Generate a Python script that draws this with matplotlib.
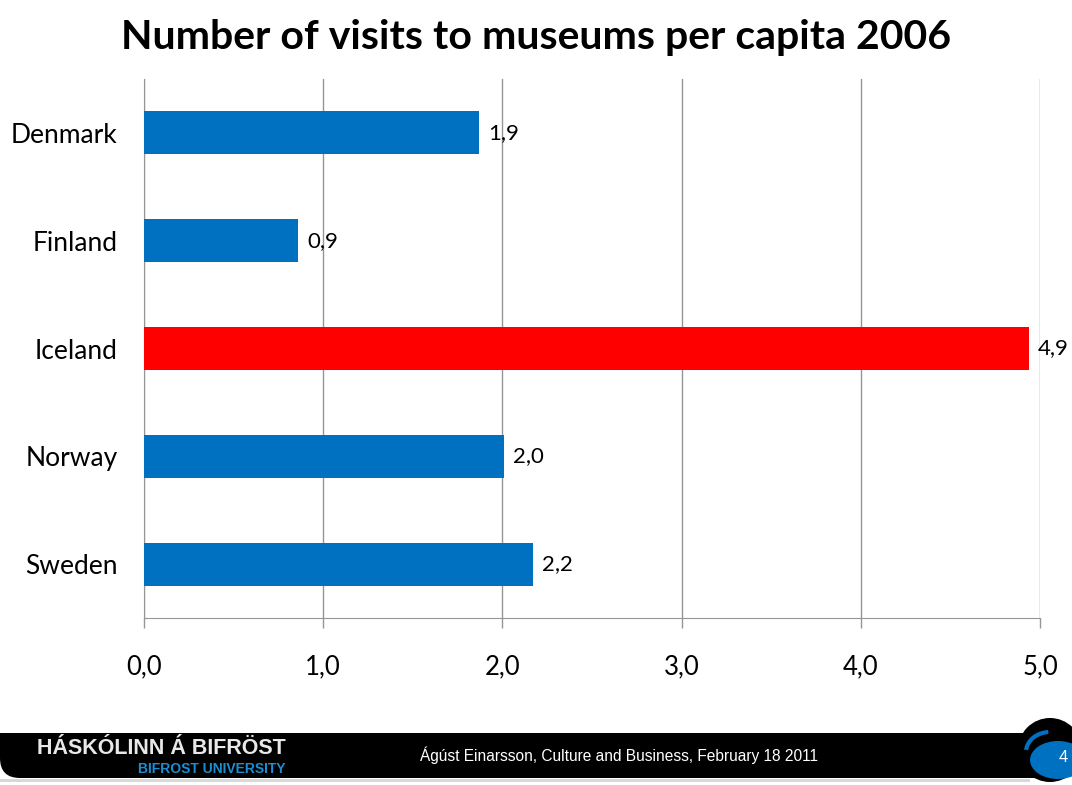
import matplotlib
matplotlib.use("Agg")
import matplotlib.pyplot as plt
from matplotlib.patches import FancyBboxPatch, Circle, Ellipse, Arc, Rectangle

countries = ["Denmark", "Finland", "Iceland", "Norway", "Sweden"]
visits = [1.87, 0.86, 4.94, 2.01, 2.17]
bar_colors = ["#0070C0", "#0070C0", "#FF0000", "#0070C0", "#0070C0"]
x_ticks = [0, 1, 2, 3, 4, 5]

title = "Number of visits to museums per capita 2006"
footer_text = "Ágúst Einarsson, Culture and Business, February 18 2011"
slide_no = "4"

plt.rcParams['font.family'] = ['Lato', 'DejaVu Sans']

fig = plt.figure(figsize=(10.72, 7.85), dpi=100)
W, H = 1072, 785

ax = fig.add_axes([144 / W, 1 - 618 / H, (1040 - 144) / W, (618 - 79) / H])
ypos = list(range(len(countries)))
ax.barh(ypos, visits, height=0.4, color=bar_colors, zorder=3)
ax.set_ylim(len(countries) - 0.5, -0.5)
ax.set_xlim(0, 5)
ax.set_yticks(ypos)
ax.set_yticklabels(countries, fontsize=19)
ax.set_xticks(x_ticks)
ax.set_xticklabels([("%.1f" % t).replace(".", ",") for t in x_ticks], fontsize=18.5)
ax.tick_params(axis="y", length=0, pad=19)
ax.tick_params(axis="x", length=7, width=1, color="#969696", pad=19)
ax.grid(axis="x", color="#969696", linewidth=1, zorder=0)
for s in ["top", "right"]:
    ax.spines[s].set_visible(False)
ax.spines["left"].set_color("#969696")
ax.spines["bottom"].set_color("#969696")

for y, v in zip(ypos, visits):
    ax.text(v + 0.05, y, ("%.1f" % v).replace(".", ","), va="center", ha="left",
            fontsize=16, zorder=4)

fig.text(536 / W, 1 - 38 / H, title, ha="center", va="center",
         fontsize=29.5, fontweight="bold")

# footer band with logo on the left and page badge on the right
fa = fig.add_axes([0, 0, 1, 1], zorder=-1)
fa.set_xlim(0, W)
fa.set_ylim(H, 0)
fa.axis("off")
fa.add_patch(Rectangle((0, 779), 1030, 3, color="#d8d8d8", lw=0))
fa.add_patch(FancyBboxPatch((0, 733), 1060, 45, boxstyle="round,pad=0,rounding_size=20",
                            color="black", lw=0))
fa.add_patch(Rectangle((0, 733), 25, 20, color="black", lw=0))
fa.add_patch(Circle((1050, 750), 32, color="black", lw=0, zorder=4))
fa.add_patch(Ellipse((1058, 760), 56, 38, color="#0070C0", lw=0, zorder=5))
fa.add_patch(Arc((1050, 752), 48, 40, theta1=185, theta2=265, color="#0070C0", lw=3, zorder=5))
fa.text(37, 749, "HÁSKÓLINN Á BIFRÖST", color="#e8e8e8", fontsize=15.5, fontweight="bold",
        family=["Liberation Sans", "DejaVu Sans"], va="center", ha="left", zorder=6)
fa.text(285, 769, "BIFROST UNIVERSITY", color="#1c8ed0", fontsize=10, fontweight="bold",
        family=["Liberation Sans", "DejaVu Sans"], va="center", ha="right", zorder=6)
fa.text(420, 755, footer_text, color="white", fontsize=11.2,
        family=["Liberation Sans", "DejaVu Sans"], va="center", ha="left", zorder=6)
fa.text(1063, 757, slide_no, color="white", fontsize=12,
        family=["Liberation Sans", "DejaVu Sans"], va="center", ha="center", zorder=6)

fig.savefig("out.png", dpi=100)
